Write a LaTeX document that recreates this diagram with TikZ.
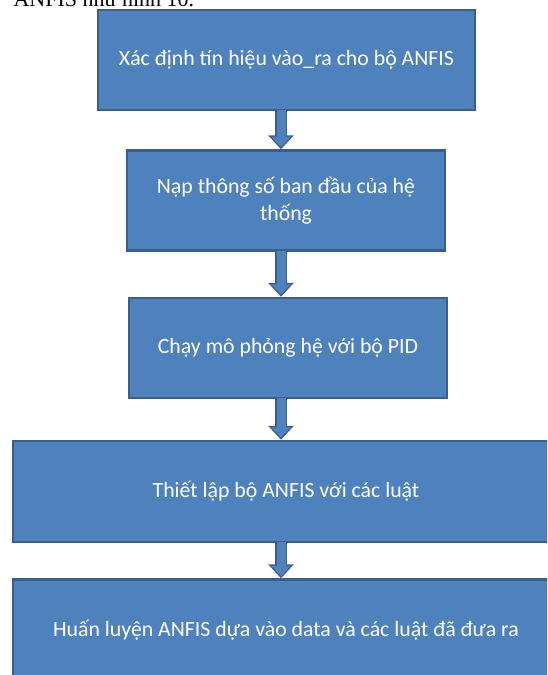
\documentclass[tikz,border=0pt]{standalone}
\usepackage{fontspec}
\setmainfont{Carlito}
\newfontfamily\captfont{Liberation Serif}
\usetikzlibrary{arrows.meta}
\definecolor{BoxFill}{HTML}{4F81BD}
\definecolor{BoxLine}{HTML}{3A5F8D}
\tikzset{
    BX/.style ={rectangle, draw=BoxLine, line width=2.5pt, fill=BoxFill, text=white, inner sep=0pt,
                align=center, font=\fontsize{21.8}{27}\selectfont},
    BX1/.style ={BX, minimum width=377pt, minimum height=100pt},
    BX2/.style ={BX, minimum width=318pt, minimum height=100pt},
    BX3/.style ={BX, minimum width=546pt, minimum height=101pt},
    AO/.style ={draw=BoxLine, line width=12pt, -{Triangle[width=25pt,length=14pt]}},
    AI/.style ={draw=BoxFill, line width=9pt, shorten >=2.2pt, -{Triangle[width=19pt,length=10.3pt]}}}
\newcommand{\flowarrow}[2]{%
    \draw[AO] ([yshift=1pt]#1.south -| ax) -- (#2.north -| ax);
    \draw[AI] ([yshift=1pt]#1.south -| ax) -- (#2.north -| ax);}

\begin{document}
\begin{tikzpicture}[x=1pt,y=-1pt]
        \useasboundingbox (0,0) rectangle (547,675);
        \clip (0,0) rectangle (547,675);
        \node[anchor=base west, font=\captfont\fontsize{22}{26}\selectfont] (0) at (10,6) {ANFIS như hình 10.};
        \node[BX1] (1) at(286.5,60){Xác định tín hiệu vào\_ra cho bộ ANFIS};
        \node[BX2] (2) at(286,200.5){Nạp thông số ban đầu của hệ\\thống};
        \node[BX2] (3) at(288,348){Chạy mô phỏng hệ với bộ PID};
        \node[BX3] (4) at(286,491.5){Thiết lập bộ ANFIS với các luật};
        \node[BX3] (5) at(286,630){Huấn luyện ANFIS dựa vào data và các luật đã đưa ra};
        \coordinate (ax) at (281,0);
        \flowarrow{1}{2}
        \flowarrow{2}{3}
        \flowarrow{3}{4}
        \flowarrow{4}{5}
    \end{tikzpicture}
\end{document}
